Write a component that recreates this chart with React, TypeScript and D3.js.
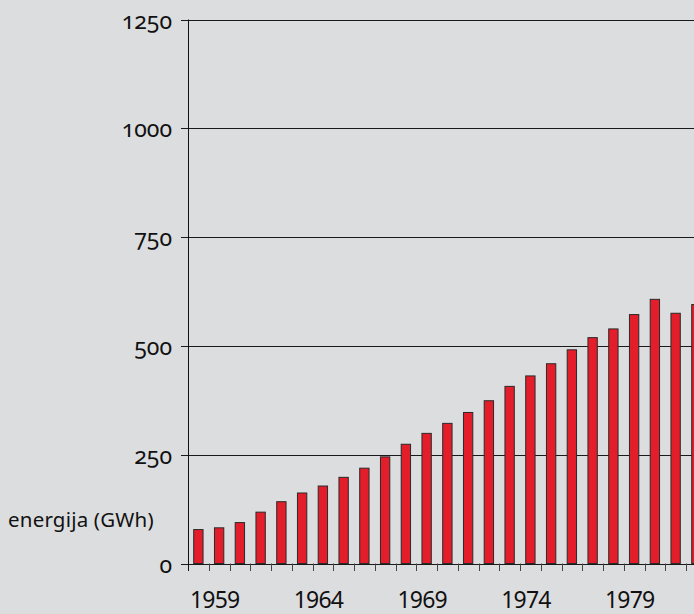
import { useEffect, useRef } from 'react';
import * as d3 from 'd3';

const years = [
  1959, 1960, 1961, 1962, 1963, 1964, 1965, 1966, 1967, 1968, 1969, 1970, 1971,
  1972, 1973, 1974, 1975, 1976, 1977, 1978, 1979, 1980, 1981, 1982, 1983,
];
const energy = [
  78, 82, 94, 118, 142, 162, 178, 198, 219, 245, 274, 299, 322,
  347, 374, 407, 431, 459, 491, 519, 539, 572, 607, 575, 595,
];
const yTicks = [0, 250, 500, 750, 1000, 1250];
const labelYears = [1959, 1964, 1969, 1974, 1979];
const yTitle = 'energija (GWh)';

const W = 694;
const H = 614;

export default function App() {
  const ref = useRef<SVGSVGElement>(null);

  useEffect(() => {
    document.body.style.margin = '0';
    const svg = d3.select(ref.current);
    svg.selectAll('*').remove();

    const left = 188;
    const band = 20.75;
    const x = d3.scaleBand<number>()
      .domain(years)
      .range([left, left + band * years.length])
      .paddingInner(0.55)
      .paddingOuter(0.275);
    const y = d3.scaleLinear().domain([0, 1250]).range([563.5, 19.5]);

    svg.append('rect').attr('width', W).attr('height', H).attr('fill', '#dcdddf');

    // grid + y ticks
    svg.append('g')
      .selectAll('line')
      .data(yTicks)
      .join('line')
      .attr('x1', 181)
      .attr('x2', W)
      .attr('y1', d => Math.round(y(d)) + 0.5)
      .attr('y2', d => Math.round(y(d)) + 0.5)
      .attr('stroke', '#1a1a1a')
      .attr('stroke-width', 1);

    svg.append('g')
      .selectAll('text')
      .data(yTicks)
      .join('text')
      .attr('x', 172)
      .attr('y', d => y(d) + 9)
      .attr('text-anchor', 'end')
      .style('font-family', 'Noto Sans')
      .style('font-size', '23px')
      .style('font-feature-settings', '"onum"')
      .attr('fill', '#111')
      .text(d => d);

    // bars
    svg.append('g')
      .selectAll('rect')
      .data(years)
      .join('rect')
      .attr('x', d => x(d)!)
      .attr('y', (_, i) => y(energy[i]))
      .attr('width', x.bandwidth())
      .attr('height', (_, i) => y(0) - y(energy[i]))
      .attr('fill', '#e31e2a')
      .attr('stroke', '#2a2a2a')
      .attr('stroke-width', 1);

    // y axis line
    svg.append('line')
      .attr('x1', left + 0.5).attr('x2', left + 0.5)
      .attr('y1', y(1250)).attr('y2', 571)
      .attr('stroke', '#111');

    // x ticks at band boundaries
    const bounds = years.map(d => x(d)! - x.step() * x.paddingInner() / 2);
    svg.append('g')
      .selectAll('line')
      .data(bounds.slice(1))
      .join('line')
      .attr('x1', d => Math.round(d) + 0.5)
      .attr('x2', d => Math.round(d) + 0.5)
      .attr('y1', y(0))
      .attr('y2', 571)
      .attr('stroke', '#444');

    svg.append('g')
      .selectAll('text')
      .data(labelYears)
      .join('text')
      .attr('x', d => bounds[years.indexOf(d)] + 2)
      .attr('y', 608)
      .style('font-family', 'Noto Sans')
      .style('font-size', '23px')
      .style('letter-spacing', '-0.8px')
      .attr('fill', '#111')
      .text(d => d);

    svg.append('text')
      .attr('x', 8)
      .attr('y', 527)
      .style('font-family', 'Noto Sans')
      .style('font-size', '20.5px')
      .style('letter-spacing', '0.2px')
      .attr('fill', '#111')
      .text(yTitle);
  }, []);

  return <svg ref={ref} width={W} height={H} style={{ display: 'block' }} />;
}
